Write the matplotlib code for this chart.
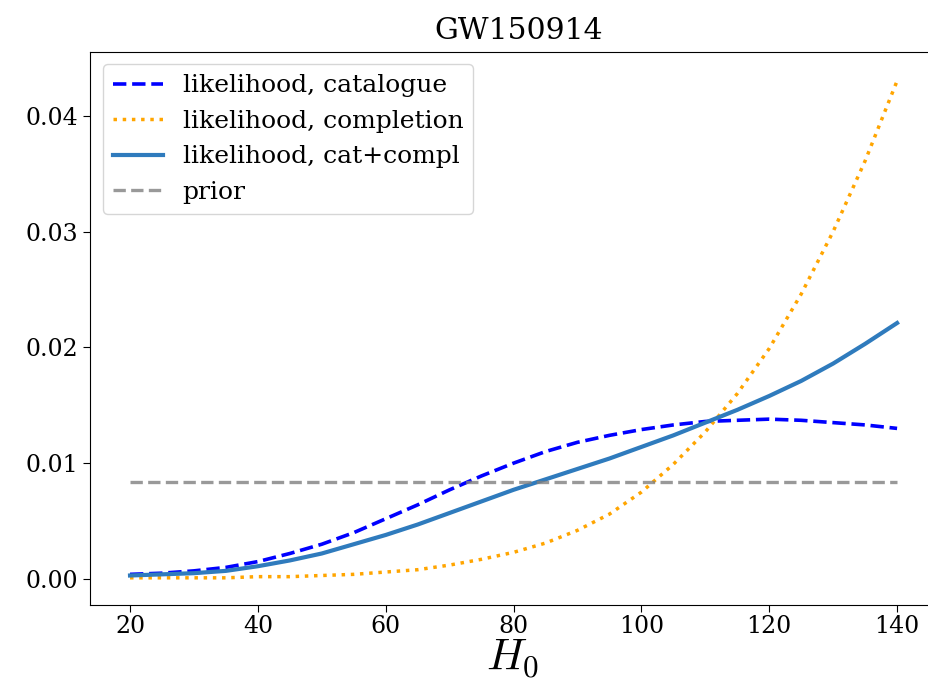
import numpy as np
import matplotlib
matplotlib.use("Agg")
import matplotlib.pyplot as plt

plt.rcParams['font.family'] = 'DejaVu Serif'
plt.rcParams['mathtext.fontset'] = 'cm'

# H0 grid and curves
H0 = [20, 25, 30, 35, 40, 45, 50, 55, 60, 65, 70, 75, 80,
      85, 90, 95, 100, 105, 110, 115, 120, 125, 130, 135, 140]
like_cat = [0.0004, 0.0005, 0.0007, 0.0010, 0.0015, 0.0022, 0.0030, 0.0040,
            0.0052, 0.0064, 0.0077, 0.0089, 0.0100, 0.0110, 0.0118, 0.0124,
            0.0129, 0.0133, 0.0136, 0.0137, 0.0138, 0.0137, 0.0135, 0.0133,
            0.0130]
like_compl = [0.0001, 0.0001, 0.0001, 0.0001, 0.0002, 0.0002, 0.0003, 0.0004,
              0.0006, 0.0008, 0.0012, 0.0017, 0.0023, 0.0031, 0.0042, 0.0056,
              0.0075, 0.0099, 0.0127, 0.0160, 0.0199, 0.0246, 0.0300, 0.0361,
              0.0430]
like_total = [0.0003, 0.0004, 0.0005, 0.0007, 0.0011, 0.0016, 0.0022, 0.0030,
              0.0038, 0.0047, 0.0057, 0.0067, 0.0077, 0.0086, 0.0095, 0.0104,
              0.0114, 0.0124, 0.0135, 0.0146, 0.0158, 0.0171, 0.0186, 0.0203,
              0.0221]
prior = [1 / 120.0] * len(H0)

fig = plt.figure(figsize=(9.29, 6.96), dpi=100)
# the right spine falls just outside the picture, as in the original crop
ax = fig.add_axes([0.0969, 0.1307, 0.9231, 0.7946])

ax.plot(H0, like_cat, '--', color='blue', lw=2.6, label='likelihood, catalogue')
ax.plot(H0, like_compl, ':', color='orange', lw=2.5, label='likelihood, completion')
ax.plot(H0, like_total, '-', color='#2f7bbd', lw=3, label='likelihood, cat+compl')
ax.plot(H0, prior, '--', color='grey', alpha=0.8, lw=2.4, label='prior')

ax.set_xlim(13.74, 147.9)
ax.set_ylim(-0.00225, 0.0455)
ax.set_title('GW150914', fontsize=21.5, pad=9)
ax.set_xlabel('$H_0$', fontsize=32)
ax.xaxis.set_label_coords(0.4924, -0.058, transform=ax.transAxes)
ax.xaxis.label.set_va('top')
ax.set_xticks([20, 40, 60, 80, 100, 120, 140])
ax.set_yticks([0.0, 0.01, 0.02, 0.03, 0.04])
ax.tick_params(labelsize=17, length=5)
ax.tick_params(axis='x', pad=2.5)
ax.legend(loc='upper left', fontsize=18)

fig.savefig('out.png', dpi=100)
